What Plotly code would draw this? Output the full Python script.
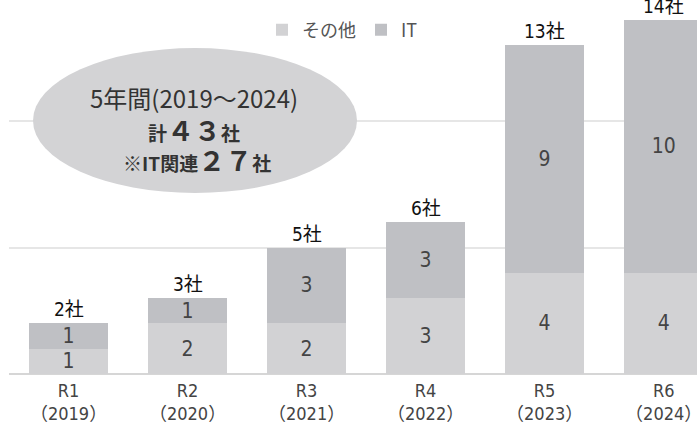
import plotly.graph_objects as go

categories = ["R1<br>（2019）", "R2<br>（2020）", "R3<br>（2021）", "R4<br>（2022）", "R5<br>（2023）", "R6<br>（2024）"]
other_values = [1, 2, 2, 3, 4, 4]
it_values = [1, 1, 3, 3, 9, 10]
totals = [o + i for o, i in zip(other_values, it_values)]
total_labels = [f"{t}社" for t in totals]

NARROW = "DejaVu Sans Condensed, Liberation Sans Narrow, Noto Sans CJK JP, sans-serif"
JP = "Noto Sans CJK JP, sans-serif"

W, H = 697, 428
L, B = 9, 54
PW, PH = W - L, H - B


def px(x):
    return (x - L) / PW


def py(y):
    return (PH - y) / PH


fig = go.Figure()
fig.add_trace(go.Bar(
    x=categories, y=other_values, name="その他",
    marker=dict(color="#d2d2d4", line=dict(width=0)),
    text=other_values, textposition="inside", insidetextanchor="middle",
    textangle=0, constraintext="none",
    textfont=dict(family=NARROW, size=21, color="#444444"),
))
fig.add_trace(go.Bar(
    x=categories, y=it_values, name="IT",
    marker=dict(color="#bfc0c4", line=dict(width=0)),
    text=it_values, textposition="inside", insidetextanchor="middle",
    textangle=0, constraintext="none",
    textfont=dict(family=NARROW, size=21, color="#444444"),
))

for c, t, lab in zip(categories, totals, total_labels):
    fig.add_annotation(x=c, y=t, text=lab, showarrow=False, yanchor="bottom",
                       yshift=1, font=dict(family=NARROW, size=19, color="#111111"))

# ellipse callout
fig.add_shape(type="circle", xref="paper", yref="paper",
              x0=px(33), x1=px(357), y0=py(193), y1=py(48),
              fillcolor="#d3d3d5", line=dict(width=0), layer="above")

fig.add_annotation(xref="paper", yref="paper", x=px(194), y=py(97),
                   xanchor="center", yanchor="middle",
                   text="5年間(2019～2024)", showarrow=False,
                   font=dict(family=JP, size=24, color="#333333"))
fig.add_annotation(xref="paper", yref="paper", x=px(194), y=py(130),
                   xanchor="center", yanchor="middle",
                   text="<b>計<span style='font-size:27px'>４３</span>社</b>", showarrow=False,
                   font=dict(family=JP, size=19, color="#333333"))
fig.add_annotation(xref="paper", yref="paper", x=px(197), y=py(159),
                   xanchor="center", yanchor="middle",
                   text="<b>※IT関連<span style='font-size:27px'>２７</span>社</b>", showarrow=False,
                   font=dict(family=JP, size=19, color="#333333"))

fig.update_layout(
    width=W, height=H,
    margin=dict(l=L, r=0, t=0, b=B, autoexpand=False),
    paper_bgcolor="white", plot_bgcolor="white",
    barmode="stack", bargap=0.336,
    showlegend=True,
    legend=dict(orientation="h", x=px(262), y=py(30), xanchor="left", yanchor="middle",
                font=dict(family=JP, size=18, color="#555555"),
                bgcolor="rgba(0,0,0,0)", traceorder="normal", itemwidth=30),
    xaxis=dict(range=[-0.5, 5.28], showgrid=False, showline=False, ticks="",
               automargin=False, ticklabelstandoff=4,
               tickfont=dict(family=NARROW, size=18, color="#444444")),
    yaxis=dict(range=[0, PH / 25.3], dtick=5, showticklabels=False, automargin=False,
               gridcolor="#e6e6e6", gridwidth=1.5,
               zeroline=True, zerolinecolor="#d6d6d6", zerolinewidth=2),
)

fig.write_html("out.html", config={"displayModeBar": False},
               post_script="document.body.style.margin='0';document.body.style.padding='0';")
